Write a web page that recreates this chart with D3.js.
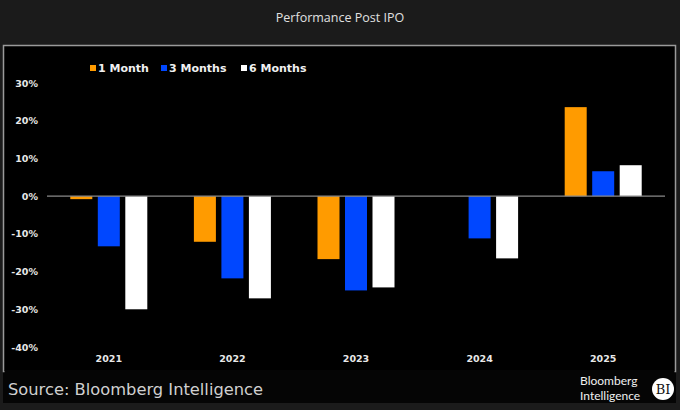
<!DOCTYPE html>
<html lang="en">
<head>
<meta charset="utf-8">
<title>Performance Post IPO</title>
<script src="https://cdn.jsdelivr.net/npm/d3@7"></script>
<style>
  html, body { margin: 0; padding: 0; background: #1b1b1b; }
  svg { display: block; }
</style>
</head>
<body>
<script>
// data (percent)
var years = ["2021", "2022", "2023", "2024", "2025"];
var seriesNames = ["1 Month", "3 Months", "6 Months"];
var oneMonth = [-0.8, -12.1, -16.7, 0, 23.6];
var threeMonths = [-13.3, -21.8, -25.0, -11.2, 6.6];
var sixMonths = [-30.0, -27.1, -24.2, -16.5, 8.2];
var yTicks = [30, 20, 10, 0, -10, -20, -30, -40];

var colors = ["#ff9b00", "#0047ff", "#ffffff"];
var series = [oneMonth, threeMonths, sixMonths];

var w = 680, h = 410;
var margin = {top: 83, right: 15, bottom: 63, left: 47};

var svg = d3.select("body").append("svg")
  .attr("width", w)
  .attr("height", h);

// backgrounds
svg.append("rect").attr("width", w).attr("height", h).attr("fill", "#1b1b1b");
svg.append("rect").attr("x", 3).attr("y", 45).attr("width", 673).attr("height", 358).attr("fill", "#050505");
svg.append("rect").attr("x", 3.5).attr("y", 45.5).attr("width", 672).attr("height", 326)
  .attr("fill", "#000").attr("stroke", "#9a9a9a").attr("stroke-width", 1.5);
// cover bottom edge of the border so only top/left/right show
svg.append("rect").attr("x", 4.5).attr("y", 370).attr("width", 670).attr("height", 3).attr("fill", "#050505");

// title
svg.append("text")
  .attr("x", 340).attr("y", 22)
  .attr("text-anchor", "middle")
  .attr("font-family", "'Open Sans', sans-serif")
  .attr("font-size", "12.5px")
  .attr("fill", "#e0e0e0")
  .text("Performance Post IPO");

// scales
var x0 = d3.scaleBand()
  .domain(years)
  .range([margin.left, w - margin.right])
  .paddingInner(0.377)
  .paddingOuter(0.1885);

var x1 = d3.scaleBand()
  .domain(seriesNames)
  .range([0, x0.bandwidth()])
  .paddingInner(0.2);

var y = d3.scaleLinear()
  .domain([-40, 30])
  .range([h - margin.bottom, margin.top]);

// y axis labels
var yAxis = d3.axisLeft(y)
  .tickValues(yTicks)
  .tickSize(0)
  .tickPadding(9)
  .tickFormat(function(d) { return d + "%"; });

var gy = svg.append("g")
  .attr("transform", "translate(" + margin.left + ",0)")
  .call(yAxis);
gy.select(".domain").remove();
gy.selectAll("text")
  .attr("font-family", "'DejaVu Sans', sans-serif")
  .attr("font-weight", "bold")
  .attr("font-size", "9.5px")
  .attr("fill", "#e8e8e8");

// x axis labels
var xAxis = d3.axisBottom(x0).tickSize(0).tickPadding(0);
var gx = svg.append("g")
  .attr("transform", "translate(0," + 355 + ")")
  .call(xAxis);
gx.select(".domain").remove();
gx.selectAll("text")
  .attr("font-family", "'DejaVu Sans', sans-serif")
  .attr("font-weight", "bold")
  .attr("font-size", "9.5px")
  .attr("fill", "#e8e8e8");

// bars
var groups = svg.append("g").selectAll("g")
  .data(years)
  .enter().append("g")
  .attr("transform", function(d) { return "translate(" + x0(d) + ",0)"; });

groups.selectAll("rect")
  .data(function(d, i) {
    return series.map(function(s, j) { return {name: seriesNames[j], value: s[i], color: colors[j]}; });
  })
  .enter().append("rect")
  .attr("x", function(d) { return x1(d.name); })
  .attr("y", function(d) { return y(Math.max(0, d.value)); })
  .attr("width", x1.bandwidth())
  .attr("height", function(d) { return Math.abs(y(d.value) - y(0)); })
  .attr("fill", function(d) { return d.color; });

// zero line
svg.append("line")
  .attr("x1", margin.left).attr("x2", w - margin.right)
  .attr("y1", y(0)).attr("y2", y(0))
  .attr("stroke", "#8a8a8a")
  .attr("stroke-width", 1.2);

// legend
var legendX = [90, 161, 241];
var legend = svg.append("g").selectAll("g")
  .data(seriesNames)
  .enter().append("g")
  .attr("transform", function(d, i) { return "translate(" + legendX[i] + ",68)"; });
legend.append("rect")
  .attr("x", 0).attr("y", -3).attr("width", 6).attr("height", 6)
  .attr("fill", function(d, i) { return colors[i]; });
legend.append("text")
  .attr("x", 8).attr("y", 4)
  .attr("font-family", "'DejaVu Sans', sans-serif")
  .attr("font-weight", "bold")
  .attr("font-size", "11px")
  .attr("fill", "#f0f0f0")
  .text(function(d) { return d; });

// footer
svg.append("text")
  .attr("x", 8).attr("y", 395)
  .attr("font-family", "'DejaVu Sans', sans-serif")
  .attr("font-size", "16.3px")
  .attr("fill", "#d0d0d0")
  .text("Source: Bloomberg Intelligence");

var logo = svg.append("g").attr("font-family", "Lato, sans-serif").attr("fill", "#f0f0f0");
logo.append("text").attr("x", 580).attr("y", 385).attr("font-size", "12px").text("Bloomberg");
logo.append("text").attr("x", 580).attr("y", 399.5).attr("font-size", "12px").text("Intelligence");
svg.append("circle").attr("cx", 663).attr("cy", 389).attr("r", 11).attr("fill", "#fff");
svg.append("text")
  .attr("x", 663).attr("y", 394)
  .attr("text-anchor", "middle")
  .attr("font-family", "'DejaVu Serif', serif")
  .attr("font-size", "13px")
  .attr("fill", "#111")
  .text("BI");
</script>
</body>
</html>
